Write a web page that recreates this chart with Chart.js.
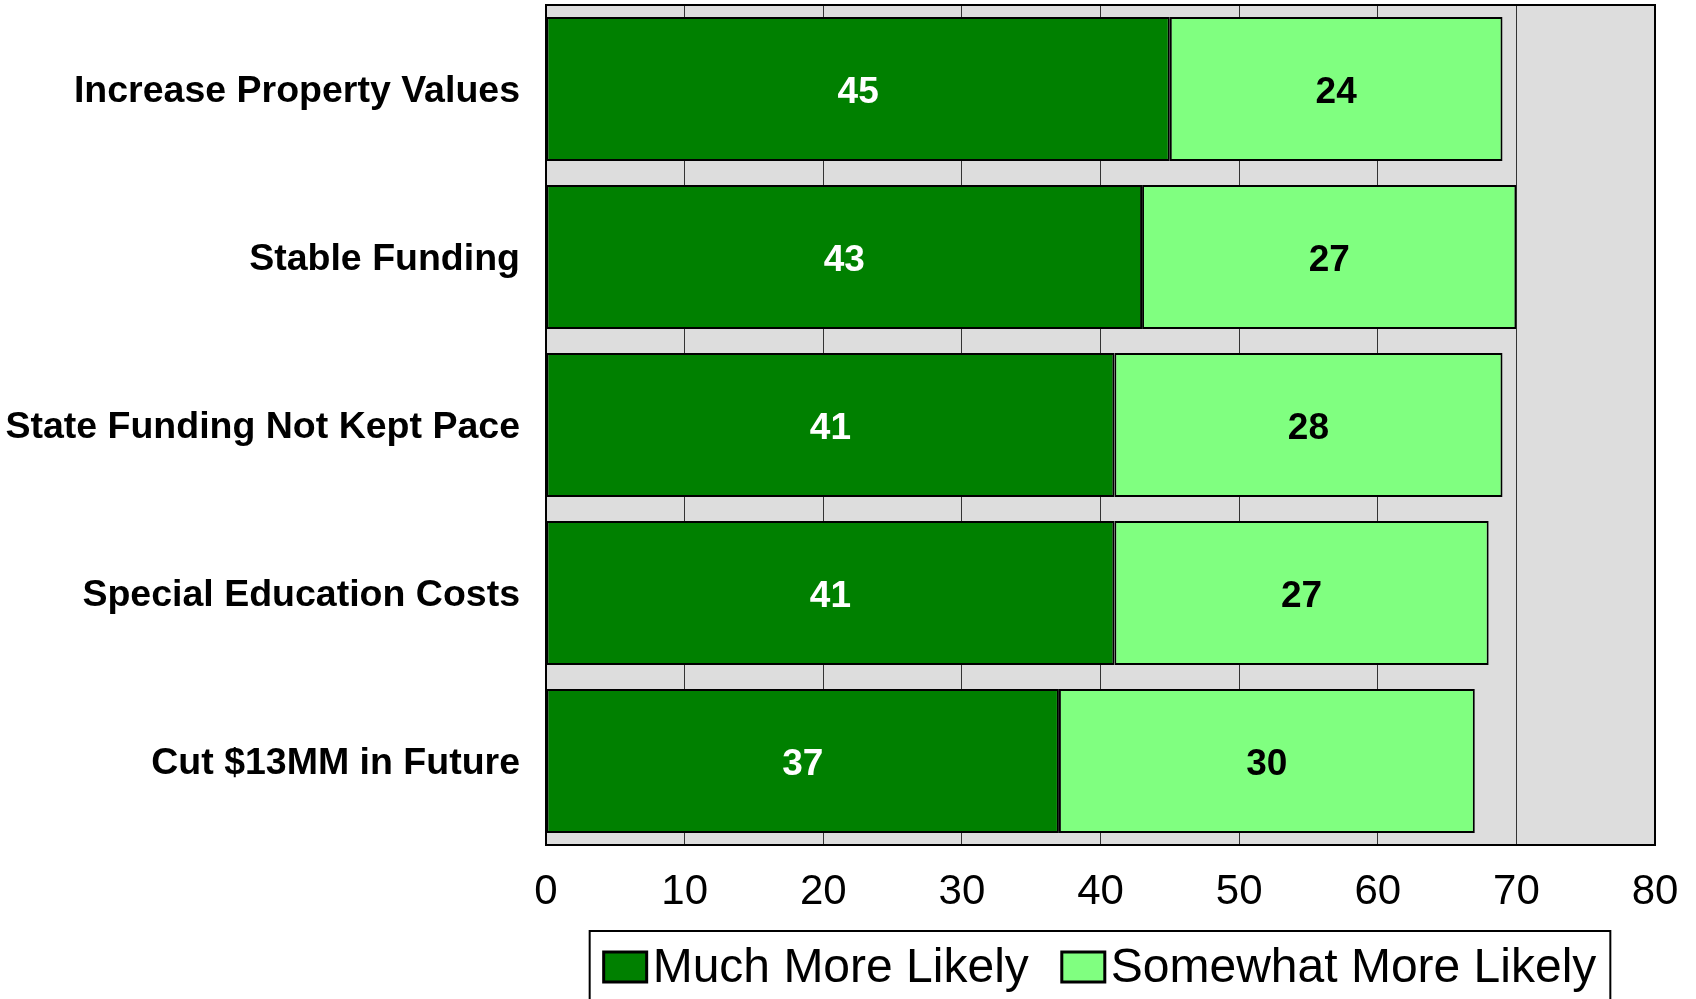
<!DOCTYPE html>
<html>
<head>
<meta charset="utf-8">
<script src="https://cdn.jsdelivr.net/npm/chart.js@4/dist/chart.umd.min.js"></script>
<style>
  html, body { margin: 0; padding: 0; background: #fff; }
  #wrap { width: 1696px; height: 999px; }
</style>
</head>
<body>
<div id="wrap"><canvas id="grafica"></canvas></div>
<script>
// datos
const categorias = ['Increase Property Values', 'Stable Funding', 'State Funding Not Kept Pace', 'Special Education Costs', 'Cut $13MM in Future'];
const muchMoreLikely = [45, 43, 41, 41, 37];
const somewhatMoreLikely = [24, 27, 28, 27, 30];
const series = ['Much More Likely', 'Somewhat More Likely'];
const ticksX = [0, 10, 20, 30, 40, 50, 60, 70, 80];

const FUENTE = "'Liberation Sans', Arial, Helvetica, sans-serif";

// fondo gris y borde del area del grafico
const fondoPlot = {
    id: 'fondoPlot',
    beforeDraw(chart) {
        const { ctx, chartArea: a } = chart;
        ctx.save();
        ctx.fillStyle = '#DDDDDD';
        ctx.fillRect(a.left, a.top, a.right - a.left, a.bottom - a.top);
        ctx.restore();
    },
    afterDraw(chart) {
        const { ctx, chartArea: a } = chart;
        ctx.save();
        ctx.strokeStyle = '#000';
        ctx.lineWidth = 2;
        ctx.strokeRect(a.left, a.top, a.right - a.left, a.bottom - a.top);
        ctx.restore();
    }
};

// etiquetas de valores dentro de cada barra
const etiquetasValores = {
    id: 'etiquetasValores',
    afterDatasetsDraw(chart) {
        const { ctx } = chart;
        ctx.save();
        ctx.font = `bold 37px ${FUENTE}`;
        ctx.textAlign = 'center';
        ctx.textBaseline = 'middle';
        chart.data.datasets.forEach((ds, i) => {
            ctx.fillStyle = i === 0 ? '#FFFFFF' : '#000000';
            chart.getDatasetMeta(i).data.forEach((bar, j) => {
                const cx = (bar.x + bar.base) / 2;
                ctx.fillText(String(ds.data[j]), cx, bar.y + 4);
            });
        });
        ctx.restore();
    }
};

// leyenda con recuadro, dibujada a mano
const leyendaCaja = {
    id: 'leyendaCaja',
    afterDraw(chart) {
        const { ctx } = chart;
        const centroX = 1100, centroY = 967;
        const caja = { w: 43, h: 30, gap: 6, sep: 33 };
        ctx.save();
        ctx.font = `48px ${FUENTE}`;
        const items = chart.data.datasets.map(ds => ({
            label: ds.label, color: ds.backgroundColor, w: ctx.measureText(ds.label).width
        }));
        let total = 0;
        items.forEach((it, i) => { total += caja.w + caja.gap + it.w + (i < items.length - 1 ? caja.sep : 0); });
        let x = centroX - total / 2;

        ctx.strokeStyle = '#000';
        ctx.lineWidth = 2;
        ctx.strokeRect(x - 14, 931, total + 28, 90);

        ctx.textBaseline = 'middle';
        ctx.textAlign = 'left';
        items.forEach(it => {
            ctx.fillStyle = it.color;
            ctx.fillRect(x, centroY - caja.h / 2, caja.w, caja.h);
            ctx.strokeStyle = '#000';
            ctx.lineWidth = 3;
            ctx.strokeRect(x, centroY - caja.h / 2, caja.w, caja.h);
            ctx.fillStyle = '#000';
            ctx.fillText(it.label, x + caja.w + caja.gap, centroY + 2);
            x += caja.w + caja.gap + it.w + caja.sep;
        });
        ctx.restore();
    }
};

const ctx = document.getElementById('grafica').getContext('2d');

new Chart(ctx, {
    type: 'bar',
    data: {
        labels: categorias,
        datasets: [
            {
                label: series[0],
                data: muchMoreLikely,
                backgroundColor: '#008000',
                borderColor: '#000000',
                borderWidth: 2,
                borderSkipped: false,
                categoryPercentage: 0.857,
                barPercentage: 1.0
            },
            {
                label: series[1],
                data: somewhatMoreLikely,
                backgroundColor: '#80FF80',
                borderColor: '#000000',
                borderWidth: 2,
                borderSkipped: false,
                categoryPercentage: 0.857,
                barPercentage: 1.0
            }
        ]
    },
    options: {
        indexAxis: 'y',
        responsive: true,
        maintainAspectRatio: false,
        animation: false,
        layout: { padding: { top: 5, right: 41, bottom: 84, left: 0 } },
        plugins: {
            legend: { display: false },
            tooltip: { enabled: false }
        },
        scales: {
            x: {
                stacked: true,
                min: 0,
                max: 80,
                afterBuildTicks(scale) {
                    scale.ticks = ticksX.map(v => ({ value: v }));
                },
                afterFit(scale) {
                    scale.height = 70;
                    scale.paddingLeft = 0;
                    scale.paddingRight = 0;
                },
                grid: {
                    color: '#333333',
                    lineWidth: 1,
                    drawTicks: false
                },
                border: { display: false },
                ticks: {
                    color: '#000',
                    padding: 22,
                    font: { family: FUENTE, size: 42 },
                    maxRotation: 0
                }
            },
            y: {
                stacked: true,
                afterFit(scale) {
                    scale.width = 546;
                    scale.paddingTop = 0;
                    scale.paddingBottom = 0;
                },
                grid: { display: false, drawTicks: false },
                border: { display: false },
                ticks: {
                    color: '#000',
                    padding: 26,
                    labelOffset: 3,
                    font: { family: FUENTE, size: 37.5, weight: 'bold' }
                }
            }
        }
    },
    plugins: [fondoPlot, etiquetasValores, leyendaCaja]
});
</script>
</body>
</html>
